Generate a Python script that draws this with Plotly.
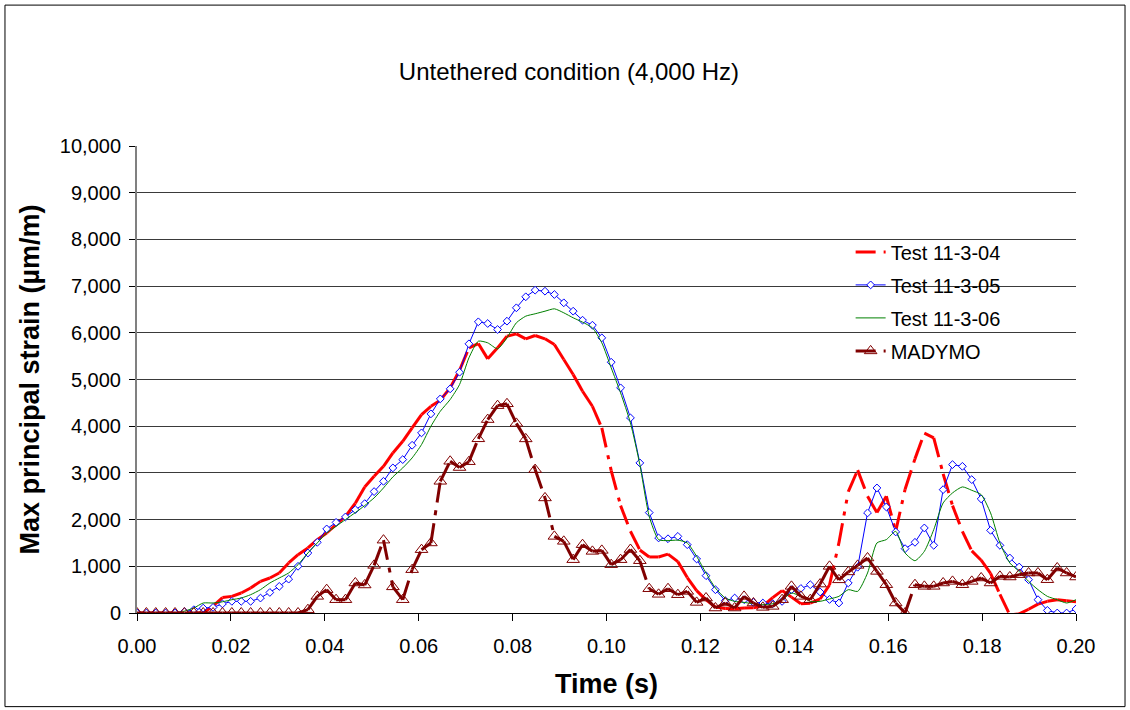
import plotly.graph_objects as go

# ---------------- data ----------------
TIME_S = [
    0.0000, 0.0020, 0.0040, 0.0061, 0.0081, 0.0101, 0.0121, 0.0141, 0.0162, 0.0182,
    0.0202, 0.0222, 0.0242, 0.0263, 0.0283, 0.0303, 0.0323, 0.0343, 0.0364, 0.0384,
    0.0404, 0.0424, 0.0444, 0.0465, 0.0485, 0.0505, 0.0525, 0.0545, 0.0566, 0.0586,
    0.0606, 0.0626, 0.0646, 0.0667, 0.0687, 0.0707, 0.0727, 0.0747, 0.0768, 0.0788,
    0.0808, 0.0828, 0.0848, 0.0869, 0.0889, 0.0909, 0.0929, 0.0949, 0.0970, 0.0990,
    0.1010, 0.1030, 0.1051, 0.1071, 0.1091, 0.1111, 0.1131, 0.1152, 0.1172, 0.1192,
    0.1212, 0.1232, 0.1253, 0.1273, 0.1293, 0.1313, 0.1333, 0.1354, 0.1374, 0.1394,
    0.1414, 0.1434, 0.1455, 0.1475, 0.1495, 0.1515, 0.1535, 0.1556, 0.1576, 0.1596,
    0.1616, 0.1636, 0.1657, 0.1677, 0.1697, 0.1717, 0.1737, 0.1758, 0.1778, 0.1798,
    0.1818, 0.1838, 0.1859, 0.1879, 0.1899, 0.1919, 0.1939, 0.1960, 0.1980, 0.2000,
]

TEST_11_3_04 = [
    0, 0, 0, 0, 0, 0, 0, 0, 150, 330,
    356, 428, 535, 677, 750, 857, 1071, 1249, 1392, 1571,
    1714, 1892, 2070, 2350, 2700, 2927, 3142, 3428, 3677, 3964,
    4249, 4427, 4556, 4821, 5198, 5678, 5770, 5442, 5678, 5927,
    5978, 5871, 5942, 5871, 5749, 5428, 5107, 4749, 4427, 3964,
    3050, 2300, 1750, 1350, 1200, 1200, 1260, 1100, 760, 480,
    280, 130, 95, 90, 105, 110, 150, 330, 480, 340,
    200, 210, 300, 600, 1500, 2600, 3060, 2500, 2150, 2500,
    1750, 2650, 3300, 3850, 3750, 2980, 2300, 1750, 1330, 1130,
    850, 400, -40, -20, 80, 190, 250, 285, 260, 240,
]

TEST_11_3_05 = [
    0, 0, 0, 0, 0, 30, 70, 105, 120, 195,
    250, 250, 250, 320, 440, 570, 725, 1000, 1285, 1513,
    1800, 1940, 2057, 2213, 2342, 2600, 2820, 3107, 3285, 3592,
    3857, 4264, 4585, 4800, 5156, 5764, 6235, 6199, 6070, 6249,
    6535, 6771, 6913, 6891, 6820, 6642, 6463, 6270, 6163, 5892,
    5370, 4821, 4178, 3214, 2150, 1607, 1590, 1641, 1463, 1157,
    799, 499, 264, 321, 285, 227, 214, 199, 249, 499,
    525, 606, 450, 290, 214, 643, 980, 2143, 2678, 2271,
    1736, 1378, 1513, 1821, 1449, 2642, 3178, 3141, 2856, 2443,
    1770, 1449, 1178, 985, 713, 285, 56, 0, 0, 86,
]

TEST_11_3_06 = [
    0, 0, 0, 0, 0, 40, 107, 214, 214, 240,
    285, 321, 392, 500, 643, 750, 857, 1035, 1285, 1500,
    1714, 1856, 2000, 2150, 2300, 2464, 2678, 2914, 3107, 3321,
    3606, 3999, 4320, 4571, 4892, 5464, 5820, 5785, 5657, 5892,
    6214, 6356, 6407, 6463, 6514, 6428, 6321, 6228, 6107, 5785,
    5250, 4714, 4071, 3178, 2070, 1571, 1550, 1560, 1500, 1213,
    857, 535, 321, 250, 227, 199, 178, 199, 285, 428,
    356, 250, 250, 300, 356, 500, 463, 857, 1500, 1571,
    1749, 1285, 1120, 1320, 1785, 2357, 2571, 2700, 2627, 2535,
    2143, 1500, 1071, 891, 677, 500, 356, 285, 214, 285,
]

MADYMO = [
    0, 0, 0, 0, 0, 0, 0, 0, 0, 0,
    0, 0, 0, 0, 0, 0, 0, 0, 71, 356,
    500, 285, 285, 643, 600, 1020, 1560, 560, 285, 928,
    1356, 1500, 2820, 3249, 3115, 3240, 3730, 4142, 4440, 4480,
    4060, 3728, 3071, 2464, 1641, 1535, 1142, 1463, 1320, 1341,
    1035, 1142, 1360, 1120, 520, 400, 520, 392, 463, 227,
    321, 107, 214, 107, 356, 214, 121, 142, 285, 571,
    356, 285, 620, 999, 710, 880, 1020, 1178, 891, 606,
    214, 0, 606, 571, 571, 643, 677, 606, 677, 750,
    643, 785, 771, 821, 857, 857, 713, 964, 857, 771,
]

X_TICKS = [0.00, 0.02, 0.04, 0.06, 0.08, 0.10, 0.12, 0.14, 0.16, 0.18, 0.20]
Y_TICKS = [0, 1000, 2000, 3000, 4000, 5000, 6000, 7000, 8000, 9000, 10000]

TITLE = "Untethered condition (4,000 Hz)"
X_TITLE = "Time (s)"
Y_TITLE = "Max principal strain (µm/m)"

FONT = "Liberation Sans, Arial, Helvetica, sans-serif"
RED = "#FF0000"
BLUE = "#0000FF"
GREEN = "#008000"
MAROON = "#800000"
RED_DASH = "20px,8px,4px,8px,4px,8px"
MAROON_DASH = "20px,8px,5px,8px"


def segmented(xs, ys):
    """Split a series into separate 2-point pieces so that the dash pattern
    restarts on every segment (as the spreadsheet renderer does)."""
    sx, sy = [], []
    for i in range(len(xs) - 1):
        sx += [xs[i], xs[i + 1], None]
        sy += [ys[i], ys[i + 1], None]
    return sx, sy


fig = go.Figure()

# Test 11-3-04 (red, long-dash-dot-dot)
rx, ry = segmented(TIME_S, TEST_11_3_04)
fig.add_trace(go.Scatter(x=rx, y=ry, mode="lines", connectgaps=False,
                         line=dict(color=RED, width=3, dash=RED_DASH),
                         legendgroup="g1", showlegend=False, hoverinfo="skip"))
fig.add_trace(go.Scatter(x=[None], y=[None], mode="lines", name="Test 11-3-04",
                         line=dict(color=RED, width=3, dash=RED_DASH),
                         legendgroup="g1"))

# Test 11-3-05 (blue with diamonds)
fig.add_trace(go.Scatter(x=TIME_S, y=TEST_11_3_05, mode="lines+markers",
                         name="Test 11-3-05", legendgroup="g2",
                         line=dict(color=BLUE, width=1),
                         marker=dict(symbol="diamond", size=6, color="white",
                                     line=dict(color=BLUE, width=1))))

# Test 11-3-06 (green)
fig.add_trace(go.Scatter(x=TIME_S, y=TEST_11_3_06, mode="lines",
                         name="Test 11-3-06", legendgroup="g3",
                         line=dict(color=GREEN, width=1, shape="spline", smoothing=0.6)))

# MADYMO (maroon, dashed, open triangles)
mx, my = segmented(TIME_S, MADYMO)
fig.add_trace(go.Scatter(x=mx, y=my, mode="lines", connectgaps=False,
                         line=dict(color=MAROON, width=3, dash=MAROON_DASH),
                         legendgroup="g4", showlegend=False, hoverinfo="skip"))
fig.add_trace(go.Scatter(x=TIME_S, y=MADYMO, mode="markers",
                         marker=dict(symbol="triangle-up-open", size=11, color=MAROON,
                                     line=dict(width=1)),
                         legendgroup="g4", showlegend=False))
fig.add_trace(go.Scatter(x=[None], y=[None], mode="lines+markers", name="MADYMO",
                         line=dict(color=MAROON, width=3, dash=MAROON_DASH),
                         marker=dict(symbol="triangle-up-open", size=11, color=MAROON,
                                     line=dict(width=1)),
                         legendgroup="g4"))

fig.update_layout(
    width=1130, height=710,
    margin=dict(l=137, r=54, t=146, b=97),
    paper_bgcolor="white", plot_bgcolor="white",
    font=dict(family=FONT, size=20, color="black"),
    title=dict(text=TITLE, font=dict(family=FONT, size=24, color="black"),
               xref="container", x=0.5035, xanchor="center",
               yref="container", y=0.899, yanchor="middle"),
    showlegend=True,
    legend=dict(x=0.760, xanchor="left", y=0.815, yanchor="top",
                bgcolor="rgba(0,0,0,0)", borderwidth=0,
                font=dict(family=FONT, size=20, color="black"),
                tracegroupgap=4),
    xaxis=dict(range=[0, 0.2], tickvals=X_TICKS, tickformat=".2f",
               showgrid=False, zeroline=False,
               showline=True, linecolor="black", linewidth=1,
               ticks="outside", ticklen=7, tickcolor="black", tickwidth=1,
               ticklabelstandoff=8,
               tickfont=dict(family=FONT, size=20, color="black"),
               title=dict(text="<b>" + X_TITLE + "</b>", standoff=18,
                          font=dict(family=FONT, size=27, color="black"))),
    yaxis=dict(range=[0, 10000], tickvals=Y_TICKS, tickformat=",d",
               showgrid=True, gridcolor="#3a3a3a", gridwidth=1, zeroline=False,
               showline=True, linecolor="#808080", linewidth=2,
               ticks="outside", ticklen=6, tickcolor="black", tickwidth=1,
               ticklabelstandoff=4,
               tickfont=dict(family=FONT, size=20, color="black"),
               title=dict(text="<b>" + Y_TITLE + "</b>", standoff=12,
                          font=dict(family=FONT, size=27, color="black"))),
    shapes=[
        # white legend panel hiding the gridlines behind the legend
        dict(type="rect", xref="paper", yref="paper",
             x0=0.657, x1=0.981, y0=0.52, y1=0.835,
             fillcolor="white", line=dict(width=0), layer="between"),
        # outer chart frame
        dict(type="rect", xref="paper", yref="paper",
             x0=-0.1406, x1=1.0522, y0=-0.2005, y1=1.3017,
             line=dict(color="black", width=1), fillcolor="rgba(0,0,0,0)",
             layer="above"),
    ],
)

fig.write_html(
    "out.html",
    config={"displayModeBar": False},
    post_script="document.body.style.margin='0';"
                "document.documentElement.style.overflow='hidden';",
)
